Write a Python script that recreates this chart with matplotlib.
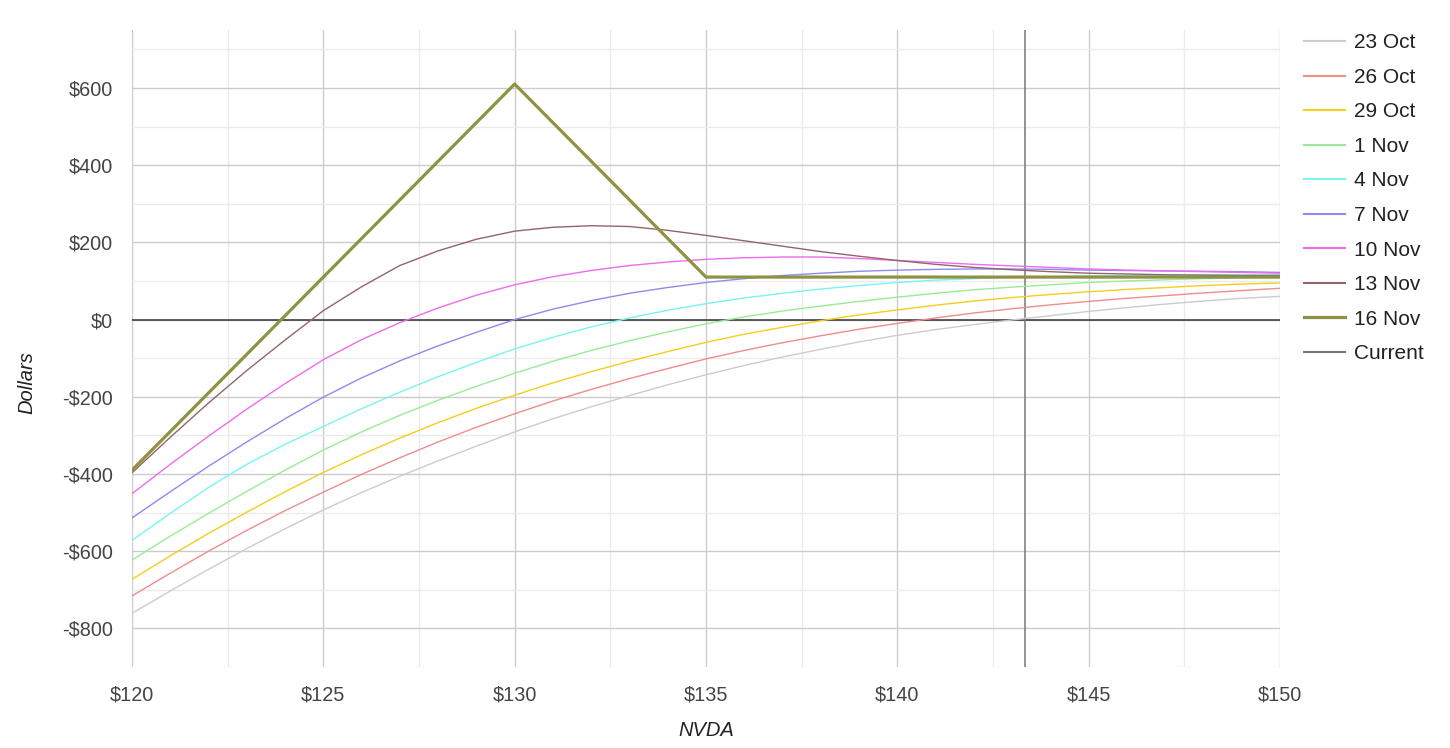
import matplotlib
matplotlib.use('Agg')
import matplotlib.pyplot as plt
from matplotlib.ticker import MultipleLocator, FuncFormatter

plt.rcParams['font.family'] = ['Liberation Sans', 'DejaVu Sans']

prices = list(range(120, 151))
current_price = 143.33

labels = ['23 Oct', '26 Oct', '29 Oct', '1 Nov', '4 Nov', '7 Nov', '10 Nov', '13 Nov', '16 Nov']

oct23 = [-761, -703, -647, -593, -542, -493, -448, -406, -366, -328, -291, -257, -226, -197, -169, -143,
         -119, -97, -77, -58, -41, -26, -13, -1, 10, 21, 31, 40, 48, 55, 60]
oct26 = [-716, -657, -600, -546, -495, -447, -401, -358, -317, -279, -244, -211, -181, -153, -127, -102,
         -80, -60, -42, -25, -10, 4, 17, 28, 38, 47, 55, 62, 69, 75, 81]
oct29 = [-673, -612, -554, -499, -446, -396, -350, -307, -267, -230, -196, -164, -135, -108, -83, -59,
         -38, -20, -3, 12, 25, 37, 48, 57, 65, 72, 78, 83, 88, 92, 95]
nov1 = [-623, -561, -502, -445, -390, -338, -291, -248, -209, -173, -139, -108, -80, -55, -32, -11,
        7, 22, 35, 47, 58, 68, 77, 84, 90, 96, 100, 103, 106, 108, 109]
nov4 = [-572, -502, -435, -375, -323, -277, -231, -188, -148, -111, -76, -46, -19, 4, 24, 41,
        56, 68, 79, 88, 96, 102, 106, 109, 111, 113, 114, 115, 116, 116, 116]
nov7 = [-514, -446, -380, -317, -257, -201, -151, -107, -68, -33, 0, 27, 49, 68, 83, 96,
        106, 114, 120, 125, 128, 130, 131, 131, 130, 128, 127, 126, 125, 124, 122]
nov10 = [-451, -375, -302, -232, -166, -104, -52, -8, 30, 63, 90, 111, 127, 140, 149, 156,
         160, 162, 162, 158, 153, 148, 143, 139, 135, 131, 128, 126, 124, 122, 120]
nov13 = [-397, -305, -216, -132, -53, 23, 85, 140, 178, 208, 229, 239, 243, 241, 231, 218,
         204, 190, 176, 164, 153, 143, 135, 129, 124, 120, 118, 116, 115, 114, 114]
nov16 = [-390, -290, -190, -90, 10, 110, 210, 310, 410, 510, 610, 510, 410, 310, 210, 110,
         110, 110, 110, 110, 110, 110, 110, 110, 110, 110, 110, 110, 110, 110, 110]

series = [oct23, oct26, oct29, nov1, nov4, nov7, nov10, nov13, nov16]
colors = ['#cccccc', '#f08c8c', '#f5cd1e', '#98ec98', '#78f4f2', '#8c8ced', '#ef6aef', '#946468', '#8f9244']

fig = plt.figure(figsize=(14.5, 7.48), dpi=100)
ax = fig.add_axes([132 / 1450, 81 / 748, 1148 / 1450, 637 / 748])

for vals, col, lab in zip(series, colors, labels):
    lw = 2.3 if lab == '16 Nov' else 1.0
    ax.plot(prices, vals, color=col, lw=lw, label=lab, zorder=3 if lab != '16 Nov' else 4)

ax.axhline(0, color='#333333', lw=1.1, zorder=2)
ax.axvline(current_price, color='#777777', lw=1.1, label='Current', zorder=2)

ax.set_xlim(120, 150)
ax.set_ylim(-900, 750)
ax.xaxis.set_major_locator(MultipleLocator(5))
ax.xaxis.set_minor_locator(MultipleLocator(2.5))
ax.yaxis.set_major_locator(MultipleLocator(200))
ax.yaxis.set_minor_locator(MultipleLocator(100))
ax.xaxis.set_major_formatter(FuncFormatter(lambda v, p: '$%d' % v))
ax.yaxis.set_major_formatter(FuncFormatter(lambda v, p: ('-$%d' % -v) if v < 0 else '$%d' % v))
ax.grid(which='major', color='#cccccc', lw=1.0, zorder=0)
ax.grid(which='minor', color='#ebebeb', lw=1.0, zorder=0)
ax.set_axisbelow(True)
for s in ax.spines.values():
    s.set_visible(False)
ax.tick_params(which='both', length=0, labelsize=14.3, labelcolor='#444444')
ax.tick_params(axis='x', pad=13)
ax.tick_params(axis='y', pad=14)

ax.set_xlabel('NVDA', fontsize=14.5, style='italic', color='#222222', labelpad=12)
ax.set_ylabel('Dollars', fontsize=14.5, style='italic', color='#222222')
ax.yaxis.set_label_coords(-0.0836, 0.447)

leg = fig.legend(loc='upper left', bbox_to_anchor=(1294 / 1450, 1 - 23 / 748), frameon=False,
                 fontsize=15, handlelength=1.97, handletextpad=0.43, labelspacing=0.745,
                 borderpad=0, labelcolor='#222222')
for h in leg.legend_handles:
    if h.get_linewidth() < 2:
        h.set_linewidth(1.5)

fig.savefig('out.png', dpi=100)
